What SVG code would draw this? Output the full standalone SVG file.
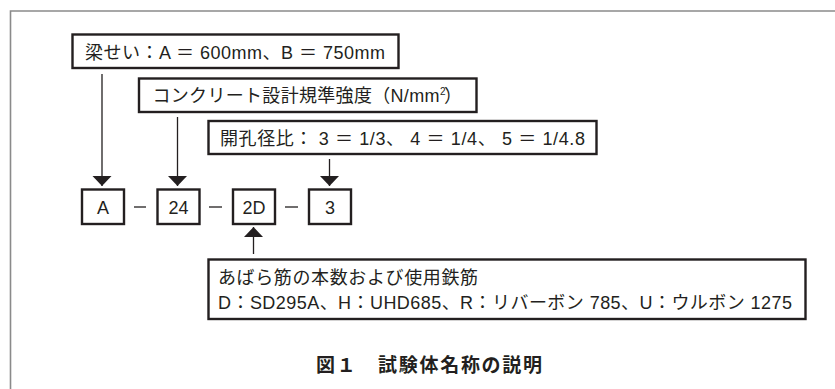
<svg xmlns="http://www.w3.org/2000/svg" width="835" height="389" viewBox="0 0 835 389">
<style>
text{font-family:"Liberation Sans","Noto Sans CJK JP",sans-serif;fill:#231f20}
.lbl{font-size:18px}
.box{fill:#fff;stroke:#231f20;stroke-width:2.4}
.conn{stroke:#231f20;stroke-width:1.3;fill:none}
.dash{stroke:#231f20;stroke-width:1.3}
.cap{font-size:19px;font-weight:bold}
</style>
<defs>
<marker id="ah" markerUnits="userSpaceOnUse" markerWidth="11" markerHeight="20" refX="10" refY="10" orient="auto-start-reverse" viewBox="0 0 11 20">
<path d="M0,0.5 L10,10 L0,19.5 Z" fill="#231f20"/>
</marker>
</defs>
<rect width="835" height="389" fill="#fff"/>
<path d="M10.5,389 V11 H835" fill="none" stroke="#8a8a8a" stroke-width="1.6"/>

<g id="connectors">
<line class="conn" x1="102" y1="74" x2="102" y2="186" marker-end="url(#ah)"/>
<line class="conn" x1="177.5" y1="117" x2="177.5" y2="186" marker-end="url(#ah)"/>
<line class="conn" x1="329.5" y1="159" x2="329.5" y2="186" marker-end="url(#ah)"/>
<line class="conn" x1="253.5" y1="254" x2="253.5" y2="227" marker-end="url(#ah)"/>
<line class="dash" x1="134" y1="207" x2="146" y2="207"/>
<line class="dash" x1="209" y1="207" x2="222" y2="207"/>
<line class="dash" x1="285" y1="207" x2="298" y2="207"/>
</g>

<g id="n-height">
<rect class="box" x="72.5" y="34.5" width="326" height="33.5"/>
<text class="lbl" x="85" y="59" textLength="300">梁せい：A ＝ 600mm、B ＝ 750mm</text>
</g>
<g id="n-concrete">
<rect class="box" x="139" y="78.5" width="337.5" height="33.5"/>
<text class="lbl" x="152.5" y="102" textLength="287">コンクリート設計規準強度（N/mm</text>
<text x="440" y="95" font-size="10">2</text>
<text class="lbl" x="444" y="102">）</text>
</g>
<g id="n-hole">
<rect class="box" x="208.5" y="121" width="388" height="33"/>
<text class="lbl" x="220" y="145" textLength="365">開孔径比： 3 ＝ 1/3、 4 ＝ 1/4、 5 ＝ 1/4.8</text>
</g>
<g id="n-A">
<rect class="box" x="82" y="189.5" width="42" height="34.5"/>
<text class="lbl" x="103" y="214" text-anchor="middle">A</text>
</g>
<g id="n-24">
<rect class="box" x="157.5" y="189.5" width="42" height="34.5"/>
<text class="lbl" x="178.5" y="214" text-anchor="middle">24</text>
</g>
<g id="n-2D">
<rect class="box" x="233" y="189.5" width="42" height="34.5"/>
<text class="lbl" x="254" y="214" text-anchor="middle">2D</text>
</g>
<g id="n-3">
<rect class="box" x="309" y="189.5" width="42" height="34.5"/>
<text class="lbl" x="330" y="214" text-anchor="middle">3</text>
</g>
<g id="n-bars">
<rect class="box" x="208.5" y="259.5" width="597" height="59.5"/>
<text class="lbl" x="218" y="284" textLength="260">あばら筋の本数および使用鉄筋</text>
<text class="lbl" x="218" y="309" textLength="574">D：SD295A、H：UHD685、R：リバーボン 785、U：ウルボン 1275</text>
</g>
<text class="cap" x="316" y="372" textLength="226">図１　試験体名称の説明</text>
</svg>
